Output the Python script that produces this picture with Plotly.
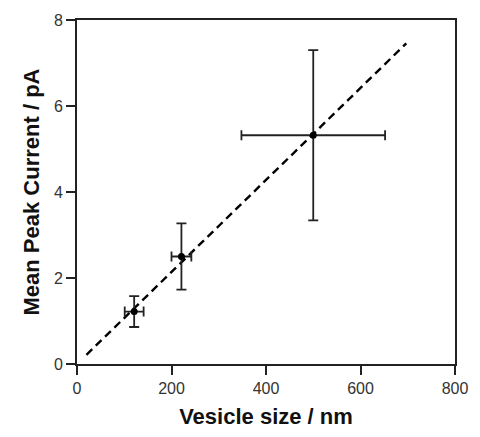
import plotly.graph_objects as go

vesicle_size = [121, 221, 500]
size_err = [20, 21, 152]
peak_current = [1.22, 2.50, 5.32]
current_err = [0.36, 0.77, 1.98]
fit_x = [20, 697]
fit_slope = 0.0107

fig = go.Figure()
fig.add_trace(go.Scatter(
    x=fit_x, y=[fit_slope * v for v in fit_x], mode="lines",
    line=dict(color="black", width=2.4, dash="8px,5px"), showlegend=False))
fig.add_trace(go.Scatter(
    x=vesicle_size, y=peak_current, mode="markers",
    marker=dict(color="black", size=7),
    error_x=dict(type="data", array=size_err, color="#222", thickness=1.8, width=5),
    error_y=dict(type="data", array=current_err, color="#222", thickness=1.8, width=5),
    showlegend=False))

axis_common = dict(showline=True, linecolor="#222", linewidth=2, mirror=True,
                   ticks="outside", ticklen=9, tickwidth=2, tickcolor="#222",
                   showgrid=False, zeroline=False,
                   tickfont=dict(family="Liberation Sans, Arial", size=16, color="#333"))
fig.update_xaxes(range=[0, 800], tickvals=[0, 200, 400, 600, 800],
                 title=dict(text="<b>Vesicle size / nm</b>", standoff=12,
                            font=dict(family="Liberation Sans, Arial", size=22, color="#111")),
                 **axis_common)
fig.update_yaxes(range=[0, 8], tickvals=[0, 2, 4, 6, 8],
                 title=dict(text="<b>Mean Peak Current / pA</b>", standoff=8,
                            font=dict(family="Liberation Sans, Arial", size=22, color="#111")),
                 **axis_common)
fig.update_layout(width=480, height=437, margin=dict(l=77, r=18, t=18, b=72),
                  plot_bgcolor="white", paper_bgcolor="white")
fig.write_html("out.html")
